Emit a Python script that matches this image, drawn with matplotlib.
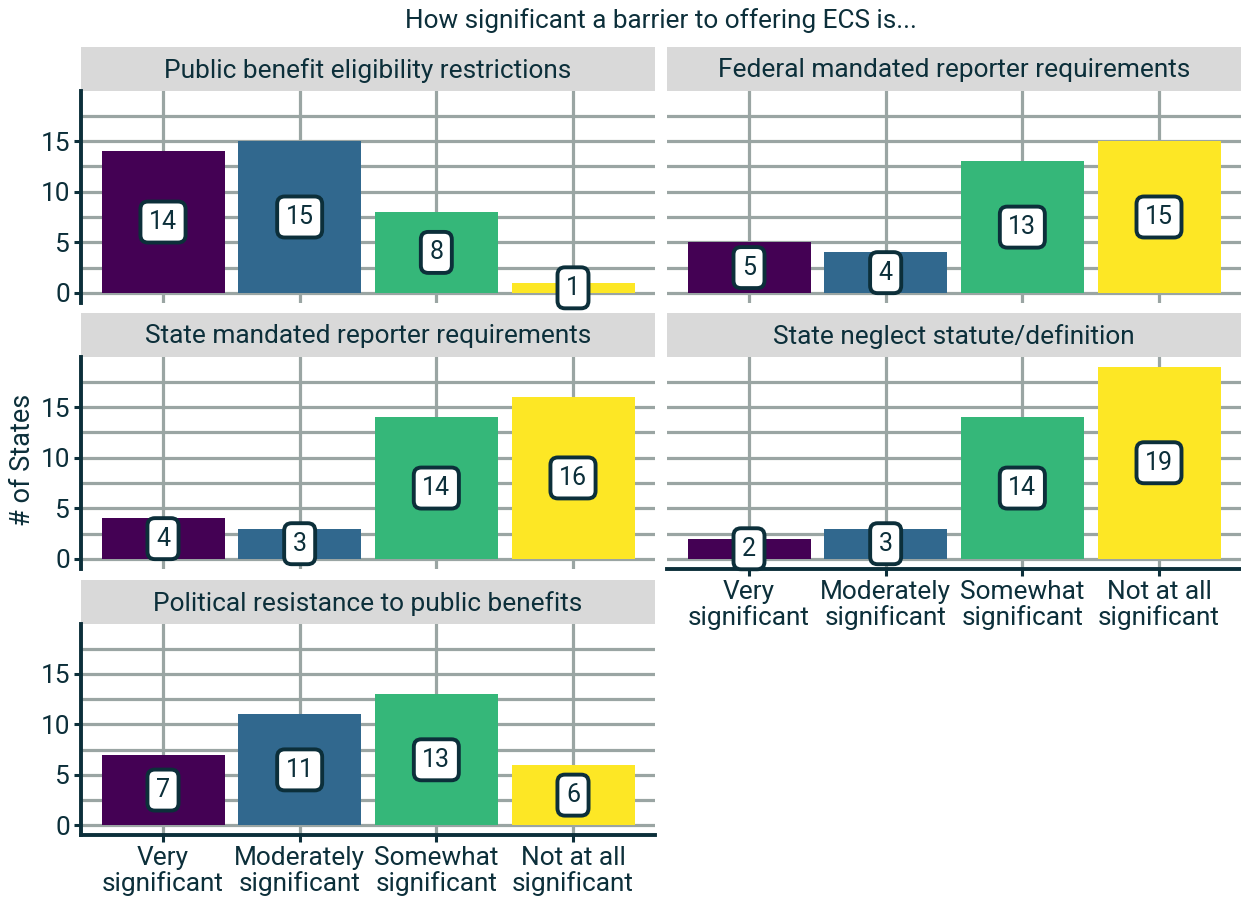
import matplotlib
matplotlib.use("Agg")
import matplotlib.pyplot as plt
from matplotlib.ticker import MultipleLocator

plt.rcParams['font.family'] = ['Roboto', 'DejaVu Sans']

title = "How significant a barrier to offering ECS is..."
ylabel = "# of States"
categories = ["Very\nsignificant", "Moderately\nsignificant", "Somewhat\nsignificant", "Not at all\nsignificant"]
facets = [
    "Public benefit eligibility restrictions",
    "Federal mandated reporter requirements",
    "State mandated reporter requirements",
    "State neglect statute/definition",
    "Political resistance to public benefits",
]
values = [
    [14, 15, 8, 1],
    [5, 4, 13, 15],
    [4, 3, 14, 16],
    [2, 3, 14, 19],
    [7, 11, 13, 6],
]
colors = ["#440154", "#31688E", "#35B779", "#FDE725"]

DARK = "#0c2f3a"
GRID = "#9aa5a3"
STRIP = "#d9d9d9"

W, H = 1241, 900
fig = plt.figure(figsize=(W / 100, H / 100), dpi=100)

cols = [(81, 655), (667, 1241)]
rows = [(47, 91, 302.5), (313, 357, 568.5), (580, 624, 835)]

ymax = max(max(v) for v in values)
ylo, yhi = -0.05 * ymax, ymax * 1.05

def px_axes(x0, x1, y0, y1):
    return fig.add_axes([x0 / W, 1 - y1 / H, (x1 - x0) / W, (y1 - y0) / H])

for i, (name, vals) in enumerate(zip(facets, values)):
    r, c = divmod(i, 2)
    x0, x1 = cols[c]
    st, sb, pb = rows[r]
    # strip
    sax = px_axes(x0, x1, st, sb)
    sax.set_facecolor(STRIP)
    sax.set_xticks([]); sax.set_yticks([])
    for s in sax.spines.values():
        s.set_visible(False)
    sax.text(0.5, 0.47, name, ha='center', va='center', fontsize=18.9, color=DARK,
             transform=sax.transAxes)
    # panel
    ax = px_axes(x0, x1, sb, pb)
    xs = list(range(1, len(categories) + 1))
    ax.set_xlim(0.4, len(categories) + 0.6)
    ax.set_ylim(ylo, yhi)
    ax.yaxis.set_major_locator(MultipleLocator(5))
    ax.yaxis.set_minor_locator(MultipleLocator(2.5))
    ax.set_xticks(xs)
    ax.grid(True, which='major', axis='both', color=GRID, lw=2.3, zorder=0)
    ax.grid(True, which='minor', axis='y', color=GRID, lw=2.3, zorder=0)
    ax.set_axisbelow(True)
    ax.bar(xs, vals, width=0.9, color=colors, zorder=2)
    for x, v in zip(xs, vals):
        ax.text(x, v / 2, str(v), ha='center', va='center', fontsize=18, color=DARK, zorder=3,
                bbox=dict(boxstyle='round,pad=0.34,rounding_size=0.3', fc='white', ec=DARK, lw=2.8))
    for s in ax.spines.values():
        s.set_visible(False)
    ax.tick_params(axis='both', which='minor', length=0)
    show_left = (c == 0)
    show_bottom = (i == 3 or i == 4)
    if show_left:
        ax.spines['left'].set_visible(True)
        ax.spines['left'].set_color(DARK)
        ax.spines['left'].set_linewidth(2.8)
        ax.tick_params(axis='y', which='major', length=5, width=2.2, color=DARK,
                       labelsize=18.9, labelcolor=DARK, pad=3)
    else:
        ax.tick_params(axis='y', which='major', length=0, labelleft=False)
    if show_bottom:
        ax.spines['bottom'].set_visible(True)
        ax.spines['bottom'].set_color(DARK)
        ax.spines['bottom'].set_linewidth(2.8)
        ax.set_xticklabels(categories, linespacing=1.05)
        ax.tick_params(axis='x', which='major', length=5, width=2.2, color=DARK,
                       labelsize=18.9, labelcolor=DARK, pad=3)
    else:
        ax.tick_params(axis='x', which='major', length=0, labelbottom=False)

fig.text(661 / W, 1 - 21 / H, title, ha='center', va='center', fontsize=18.8, color=DARK)
fig.text(22 / W, 1 - 460 / H, ylabel, ha='center', va='center', rotation=90, fontsize=19.5, color=DARK)

fig.savefig("out.png", dpi=100)
